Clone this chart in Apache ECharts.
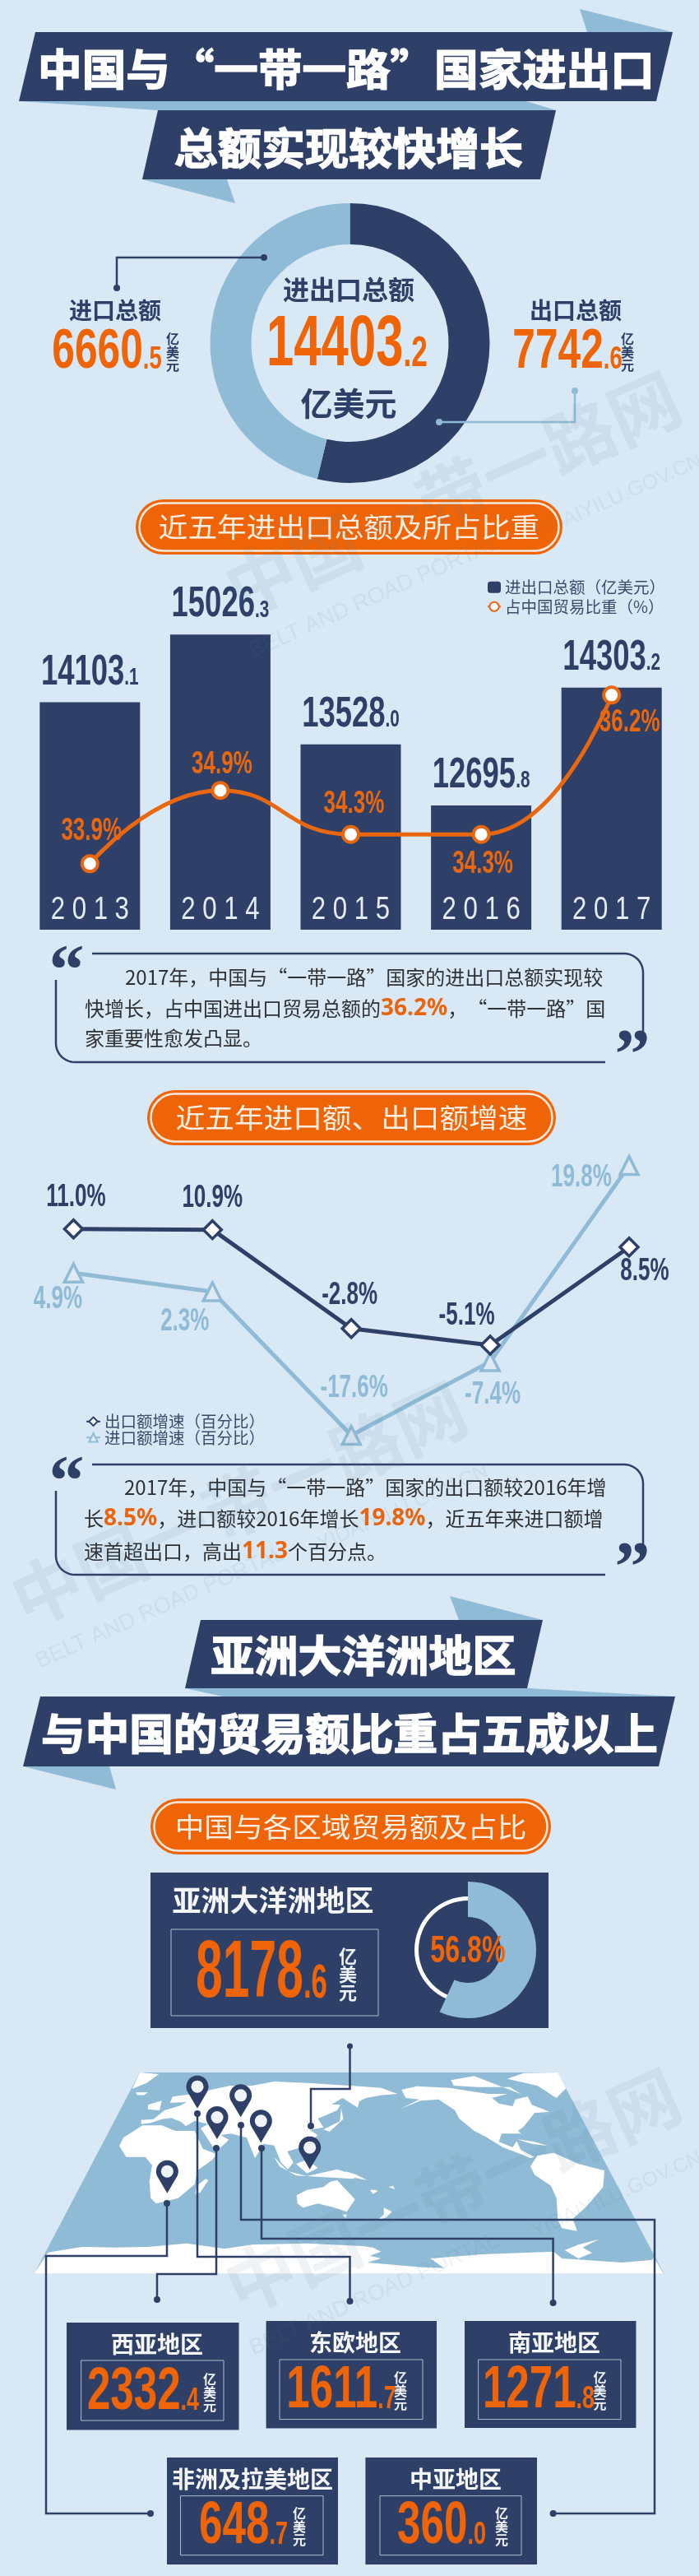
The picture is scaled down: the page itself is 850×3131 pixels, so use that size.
<!DOCTYPE html>
<html>
<head>
<meta charset="utf-8">
<title>中国与“一带一路”国家进出口</title>
<script src="https://cdn.jsdelivr.net/npm/echarts@6/dist/echarts.min.js"></script>
<style>
html, body { margin: 0; padding: 0; background: #d8e8f5; }
#main { width: 850px; height: 3131px; }
</style>
</head>
<body>
<div id="main"></div>
<script>
// 数据
const years = ['2013', '2014', '2015', '2016', '2017']
const totalValues = [14103.1, 15026.3, 13528.0, 12695.8, 14303.2]
const shareValues = [33.9, 34.9, 34.3, 34.3, 36.2]
const exportGrowth = [11.0, 10.9, -2.8, -5.1, 8.5]
const importGrowth = [4.9, 2.3, -17.6, -7.4, 19.8]
const donutNames = ['出口总额', '进口总额']
const donutValues = [7742.6, 6660.5]
const donutTotal = 14403.2
const asiaValue = 8178.6
const asiaShare = 56.8
const regionNames = ['西亚地区', '东欧地区', '南亚地区', '非洲及拉美地区', '中亚地区']
const regionValues = [2332.4, 1611.7, 1271.8, 648.7, 360.0]

const DARK = '#2f4068'
const LIGHT = '#8fbbd6'
const ORANGE = '#ef6407'
const CJK = '"Noto Sans CJK SC", sans-serif'
const NARROW = '"Liberation Sans", sans-serif' // 数字靠 scaleX 压窄

let g = [] // 所有 graphic 元素

function txt(x, y, text, o) {
	o = o || {}
	g.push({
		type: 'text', x: x, y: y, z: o.z || 10, silent: true,
		scaleX: o.scaleX || 1, scaleY: o.scaleY || 1, rotation: o.rotation || 0,
		style: {
			text: text,
			fill: o.color || DARK,
			font: (o.weight || 'normal') + ' ' + (o.size || 20) + 'px ' + (o.font || CJK),
			align: o.align || 'center',
			verticalAlign: 'middle',
			stroke: o.stroke, lineWidth: o.lineWidth || 0,
			rich: o.rich, lineHeight: o.lineHeight
		}
	})
}

// 大数字 + 小数点后缩小
function numText(v) {
	let s = v.toFixed(1).split('.')
	return '{a|' + s[0] + '}{c|.' + s[1] + '}'
}
function numRich(big, small, color) {
	return {
		a: { font: 'bold ' + big + 'px ' + NARROW, fill: color, lineHeight: big, height: big, verticalAlign: 'bottom' },
		c: { font: 'bold ' + small + 'px ' + NARROW, fill: color, lineHeight: small, verticalAlign: 'bottom', padding: [0, 0, (big - small) * 0.2, 0] }
	}
}
function num(x, y, v, big, small, scaleX, color) {
	txt(x, y, numText(v), { rich: numRich(big, small, color || ORANGE), scaleX: scaleX, size: big, font: NARROW, weight: 'bold' })
}
function unit(x, y, size, color) {
	txt(x, y, '亿\n美\n元', { size: size, color: color, weight: 'bold', lineHeight: size })
}
function poly(pts, fill, z) {
	g.push({ type: 'polygon', z: z || 1, silent: true, shape: { points: pts }, style: { fill: fill } })
}
function line(pts, color, w, z) {
	g.push({ type: 'polyline', z: z || 6, silent: true, shape: { points: pts }, style: { stroke: color, lineWidth: w, fill: null } })
}
function dot(x, y, r, color, z) {
	g.push({ type: 'circle', z: z || 6, silent: true, shape: { cx: x, cy: y, r: r }, style: { fill: color } })
}
function rect(x0, y0, x1, y1, o) {
	g.push({
		type: 'rect', z: o.z || 1, silent: true,
		shape: { x: x0, y: y0, width: x1 - x0, height: y1 - y0, r: o.r || 0 },
		style: { fill: o.fill || null, stroke: o.stroke, lineWidth: o.lineWidth || 0 }
	})
}
function pill(x0, y0, x1, y1, text, size, scaleX) {
	rect(x0, y0, x1, y1, { fill: ORANGE, r: (y1 - y0) / 2 })
	rect(x0 + 4.5, y0 + 4.5, x1 - 4.5, y1 - 4.5, { fill: ORANGE, stroke: '#f6e9de', lineWidth: 2.5, r: (y1 - y0) / 2 - 4.5 })
	txt((x0 + x1) / 2, (y0 + y1) / 2, text, { size: size, color: '#fbeee2', scaleX: scaleX })
}

// 圆角引用框
function corner(cx, cy, r, a0, a1) {
	let pts = []
	for (let i = 0; i <= 10; i++) {
		let a = a0 + (a1 - a0) * i / 10
		pts.push([cx + r * Math.cos(a), cy + r * Math.sin(a)])
	}
	return pts
}
function quoteBox(y0, yRight, yLeft, y1) {
	let r = 23
	line([[112, y0]].concat(corner(782 - r, y0 + r, r, -Math.PI / 2, 0)).concat([[782, yRight]]), DARK, 2.5, 3)
	line([[68, yLeft]].concat(corner(68 + r, y1 - r, r, Math.PI, Math.PI / 2)).concat([[736, y1]]), DARK, 2.5, 3)
	txt(81, y0 + 27, '“', { size: 86, font: '"Liberation Serif", serif', weight: 'bold' })
	txt(769, y1 - 3, '”', { size: 86, font: '"Liberation Serif", serif', weight: 'bold' })
}
const hiRich = { o: { font: 'bold 28px "Noto Sans", sans-serif', fill: '#e9650f' } }
function body(x, y, text) {
	txt(x, y, text, { size: 24, color: '#2e3033', align: 'left', rich: hiRich })
}

// ---- 顶部标题 ----
poly([[705, 11], [818, 39], [714, 39]], LIGHT)
poly([[43, 39], [818, 39], [798, 123], [23, 123]], DARK, 2)
poly([[23, 123], [640, 123], [676, 134], [192, 134]], LIGHT)
poly([[192, 134], [676, 134], [657, 218], [173, 218]], DARK, 2)
poly([[173, 218], [276, 218], [286, 247]], LIGHT)
txt(421, 84, '中国与“一带一路”国家进出口', { size: 52, color: '#fff', weight: 'bold', scaleX: 1.03, stroke: '#fff', lineWidth: 1.5 })
txt(424, 180, '总额实现较快增长', { size: 52, color: '#fff', weight: 'bold', scaleX: 1.02, stroke: '#fff', lineWidth: 1.5 })

// ---- 圆环中的文字 ----
txt(424, 352, '进出口总额', { size: 32, weight: 'bold' })
num(422, 420, donutTotal, 88, 52, 0.68)
txt(424, 490, '亿美元', { size: 39, weight: 'bold' })
txt(140, 377, donutNames[1], { size: 28, weight: 'bold' })
num(130, 428, donutValues[1], 69, 38, 0.72)
unit(210, 428, 16)
txt(700, 377, donutNames[0], { size: 28, weight: 'bold' })
num(690, 428, donutValues[0], 69, 38, 0.72)
unit(763, 428, 16)
line([[321, 313], [142, 313], [142, 350]], DARK, 2.5)
dot(321, 313, 4, DARK)
dot(142, 350, 4, DARK)
line([[534, 513], [699, 513], [699, 475]], LIGHT, 2.5)
dot(534, 513, 4, LIGHT)
dot(699, 475, 4, LIGHT)

// ---- 两个柱线图的标题和引用框 ----
pill(165, 607, 684, 674, '近五年进出口总额及所占比重', 33, 1.08)
quoteBox(1159, 1254, 1191, 1291)
body(152, 1188, '2017年，中国与“一带一路”国家的进出口总额实现较')
body(103, 1226, '快增长，占中国进出口贸易总额的{o|36.2%}，“一带一路”国')
body(103, 1262, '家重要性愈发凸显。')

pill(179, 1325, 676, 1392, '近五年进口额、出口额增速', 33, 1.08)
quoteBox(1780, 1877, 1812, 1914)
body(151, 1808, '2017年，中国与“一带一路”国家的出口额较2016年增')
body(102, 1846, '长{o|8.5%}，进口额较2016年增长{o|19.8%}，近五年来进口额增')
body(102, 1886, '速首超出口，高出{o|11.3}个百分点。')

// ---- 第二部分标题 ----
poly([[547, 1940], [660, 1969], [558, 1969]], LIGHT)
poly([[244, 1969], [660, 1969], [641, 2052], [225, 2052]], DARK, 2)
poly([[225, 2052], [641, 2052], [821, 2062], [271, 2062]], LIGHT)
poly([[49, 2062], [821, 2062], [801, 2147], [28, 2147]], DARK, 2)
poly([[28, 2147], [133, 2147], [141, 2175]], LIGHT)
txt(442, 2012, '亚洲大洋洲地区', { size: 52, color: '#fff', weight: 'bold', scaleX: 1.02, stroke: '#fff', lineWidth: 1.5 })
txt(425, 2107, '与中国的贸易额比重占五成以上', { size: 52, color: '#fff', weight: 'bold', scaleX: 1.03, stroke: '#fff', lineWidth: 1.5 })
pill(183, 2186, 670, 2254, '中国与各区域贸易额及占比', 33, 1.08)

rect(183, 2276, 667, 2465, { fill: DARK })
txt(332, 2310, '亚洲大洋洲地区', { size: 35, color: '#f4f6f8', weight: 'bold' })
rect(208, 2345, 460, 2450, { stroke: '#aebccb', lineWidth: 1, z: 2 })
num(318, 2400, asiaValue, 98, 58, 0.6)
unit(423, 2400, 22, '#eef2f6')
txt(569, 2372, asiaShare.toFixed(1) + '%', { size: 46, font: NARROW, weight: 'bold', color: ORANGE, scaleX: 0.7 })

// ---- 世界地图（手绘轮廓，坐标按 3 倍图量取）----
function mp(pts, dx) {
	return pts.map(function(p) { return [40 + (p[0] + (dx || 0)) / 3, 2515 + p[1] / 3] })
}
poly([[170, 2519], [678, 2519], [807, 2763], [42, 2763]], LIGHT, 1)
const landLeft = [
	[[390, 12], [460, 18], [415, 50], [362, 72]],
	[[375, 85], [420, 84], [405, 95], [380, 94]],
	[[420, 130], [470, 115], [462, 150], [420, 146]],
	// 亚欧大陆
	[[395, 185], [395, 200], [430, 196], [470, 182], [505, 178], [540, 192], [558, 208], [590, 188], [640, 200], [612, 215], [625, 235], [668, 300], [715, 258], [685, 240], [722, 235], [780, 250], [810, 325], [842, 272], [880, 278], [905, 340], [930, 365], [950, 340], [928, 300], [990, 282], [1040, 240], [1010, 222], [1060, 212], [1040, 180], [1110, 150], [1122, 130], [1090, 128], [1130, 105], [1185, 140], [1190, 118], [1215, 105], [1270, 95], [1330, 90], [1270, 68], [1190, 62], [1000, 50], [880, 45], [800, 60], [720, 60], [650, 75], [590, 90], [510, 100], [500, 122], [560, 120], [540, 132], [480, 150], [440, 182]],
	// 非洲
	[[315, 280], [330, 250], [400, 205], [470, 205], [520, 225], [590, 225], [620, 290], [670, 310], [655, 330], [600, 370], [590, 420], [530, 470], [450, 490], [430, 470], [425, 410], [435, 350], [410, 320], [340, 320]],
	[[630, 400], [640, 405], [610, 450], [592, 455], [598, 425]],
	// 日本、南洋
	[[1060, 220], [1120, 190], [1125, 142], [1132, 182], [1082, 228]],
	[[880, 320], [930, 372], [1000, 390], [1110, 365], [1172, 385], [1172, 400], [1090, 395], [960, 388], [900, 355]],
	[[960, 345], [1000, 330], [1040, 360], [1000, 380]],
	// 澳大利亚
	[[962, 460], [1000, 440], [1060, 430], [1085, 410], [1110, 405], [1175, 475], [1145, 520], [1100, 505], [1040, 490], [985, 505], [965, 490]],
	[[1130, 530], [1146, 530], [1140, 542]],
	// 南极
	[[55, 668], [180, 648], [300, 650], [420, 648], [560, 635], [700, 655], [800, 640], [1000, 635], [1200, 645], [1240, 650], [1270, 665], [1230, 680], [1270, 690], [1220, 705], [1420, 722], [1500, 725], [1450, 690], [1640, 675], [1780, 670], [1900, 665], [1930, 690], [2150, 705], [2260, 695], [2265, 685], [2300, 745], [5, 745]]
]
const landRight = [
	// 北美
	[[205, 75], [260, 62], [380, 68], [520, 90], [590, 90], [535, 105], [560, 125], [610, 135], [620, 110], [665, 100], [680, 130], [745, 155], [690, 160], [650, 210], [630, 225], [660, 252], [640, 235], [570, 235], [560, 265], [610, 285], [625, 262], [640, 295], [690, 320], [675, 325], [640, 310], [575, 285], [510, 245], [470, 225], [415, 180], [400, 150], [340, 110], [275, 115], [200, 145], [270, 110], [220, 105]],
	[[385, 40], [470, 25], [560, 60], [640, 90], [600, 65], [480, 65], [395, 60]],
	[[590, 35], [650, 14], [775, 12], [805, 70], [770, 105], [700, 60]],
	[[625, 255], [690, 265], [740, 280], [680, 272]],
	// 南美
	[[675, 355], [700, 315], [760, 305], [850, 345], [945, 370], [940, 430], [880, 500], [830, 545], [845, 590], [790, 580], [775, 550], [770, 470], [750, 425], [690, 385]],
	[[110, 555], [140, 530], [140, 505], [170, 520], [150, 540]],
	[[800, 660], [850, 640], [925, 620], [865, 650], [900, 670], [850, 690]],
	[[0, 372], [40, 385], [80, 405], [30, 395]],
	[[90, 440], [110, 440], [118, 445], [100, 455]],
	[[158, 430], [175, 425], [180, 438]]
]
landLeft.forEach(function(p) { poly(mp(p), '#fff', 2) })
landRight.forEach(function(p) { poly(mp(p, 1140), '#fff', 2) })

function pin(zx, zy) {
	let tip = mp([[zx, zy]])[0]
	let r = 13.5, d = 26.5, a = Math.asin(r / d), pts = [[tip[0], tip[1]]]
	for (let i = 0; i <= 24; i++) {
		let ang = Math.PI - a + (Math.PI + 2 * a) * i / 24
		pts.push([tip[0] + r * Math.cos(ang), tip[1] - d + r * Math.sin(ang)])
	}
	poly(pts, DARK, 7)
	dot(tip[0], tip[1] - d, 7.5, '#eef4f9', 8)
}
// 连接线
line([[425.5, 2487], [425.5, 2539], [378, 2539], [378, 2584]], DARK, 2.5)
dot(425.5, 2487, 3.5, DARK); dot(378, 2584, 4, DARK)
line([[203, 2678], [203, 2742], [56, 2742], [56, 3055], [183, 3055]], DARK, 2.5)
dot(203, 2678, 4, DARK); dot(183, 3055, 4, DARK)
line([[263, 2611], [263, 2764], [191, 2764], [191, 2795]], DARK, 2.5)
dot(263, 2611, 4, DARK); dot(191, 2795, 4, DARK)
line([[240, 2569], [240, 2743], [425.5, 2743], [425.5, 2797]], DARK, 2.5)
dot(240, 2569, 4, DARK); dot(425.5, 2797, 4, DARK)
line([[318, 2611], [318, 2721], [672.6, 2721], [672.6, 2799]], DARK, 2.5)
dot(318, 2611, 4, DARK); dot(672.6, 2799, 4, DARK)
line([[293, 2583], [293, 2698], [796, 2698], [796, 3055], [672.6, 3055]], DARK, 2.5)
dot(293, 2583, 4, DARK); dot(672.6, 3055, 4, DARK)
pin(600, 143); pin(758, 175); pin(672, 255); pin(832, 268); pin(1010, 365); pin(490, 452)

// ---- 各地区卡片 ----
const cardBoxes = [
	{ box: [81, 2823, 290.5, 2953.5], title: [191, 2849], inner: [98.6, 2869, 272, 2942], num: [174, 2908], unit: 255 },
	{ box: [323.6, 2821, 531, 2951.5], title: [432, 2847], inner: [340, 2868, 514, 2940.6], num: [415, 2906], unit: 487 },
	{ box: [565, 2821, 773.5, 2951], title: [674, 2847], inner: [581.6, 2868, 755, 2940.6], num: [655, 2906], unit: 729.6 },
	{ box: [203, 2987, 411, 3117], title: [307, 3013], inner: [219.5, 3033.6, 393, 3105.6], num: [296, 3071], unit: 364 },
	{ box: [444.4, 2987, 653, 3117], title: [554, 3013], inner: [462, 3033.6, 634, 3105.6], num: [537, 3071], unit: 610 }
]
cardBoxes.forEach(function(c, i) {
	rect(c.box[0], c.box[1], c.box[2], c.box[3], { fill: DARK })
	rect(c.inner[0], c.inner[1], c.inner[2], c.inner[3], { stroke: '#aebccb', lineWidth: 1, z: 2 })
	txt(c.title[0], c.title[1], regionNames[i], { size: 28, color: '#f4f6f8', weight: 'bold' })
	num(c.num[0], c.num[1], regionValues[i], 72, 38, 0.71)
	unit(c.unit, c.num[1], 16, '#eef2f6')
})

// ---- 水印 ----
function watermark(cx, cy) {
	let col = 'rgba(90,125,155,0.09)', rot = 0.42
	txt(cx, cy, '中国一带一路网', { size: 85, weight: 'bold', color: col, rotation: rot, z: 50 })
	txt(cx - 95, cy + 126, 'BELT AND ROAD PORTAL', { size: 27, font: '"Liberation Sans", sans-serif', color: col, rotation: rot, z: 50 })
	txt(cx + 200, cy + 5, 'YIDAIYILU.GOV.CN', { size: 25, font: '"Liberation Sans", sans-serif', color: col, rotation: rot, z: 50 })
}
watermark(550, 600)
watermark(290, 1828)
watermark(550, 2663)

// 用坐标轴取点的文字标签
function labelSeries(xIdx, yIdx, values, fn) {
	return {
		type: 'custom', xAxisIndex: xIdx, yAxisIndex: yIdx, silent: true, z: 6,
		data: values.map(function(v, i) { return [i, v] }),
		renderItem: function(params, api) {
			let pt = api.coord([api.value(0), api.value(1)])
			return fn(pt, params.dataIndex, api.value(1))
		}
	}
}
function pctLabel(pt, off, v, size, color, scaleX) {
	return {
		type: 'text', x: pt[0] + off[0], y: pt[1] + off[1], scaleX: scaleX,
		style: { text: v.toFixed(1) + '%', fill: color, font: 'bold ' + size + 'px ' + NARROW, align: 'center', verticalAlign: 'middle' }
	}
}
const shareOff = [[2, -39], [2, -31], [4, -37], [2, 36], [22, 34]]
const exportOff = [[3, -38.5], [0, -38], [-2, -40], [-28.5, -35], [19, 29.5]]
const importOff = [[-19, 32], [-33.5, 36], [3.5, -57], [3, 40], [-58, 15]]

let myChart = echarts.init(document.getElementById('main'))
let option = {
	backgroundColor: '#d8e8f5',
	animation: false,
	grid: [
		{ left: 30, width: 793, top: 729, height: 401 },
		{ left: 89.4, width: 675.6, top: 1371, height: 394.6 }
	],
	xAxis: [
		{
			type: 'category', gridIndex: 0, data: years,
			axisLine: { show: false }, axisTick: { show: false }, axisLabel: { show: false }
		},
		{ type: 'category', gridIndex: 1, data: years, boundaryGap: false, show: false }
	],
	yAxis: [
		{ type: 'value', gridIndex: 0, min: 11000, max: 15500, show: false },
		{ type: 'value', gridIndex: 0, min: 33, max: 37.5, show: false },
		{ type: 'value', gridIndex: 1, min: -20, max: 25, show: false }
	],
	legend: [
		{
			left: 587, top: 699, orient: 'vertical', itemGap: 4, itemWidth: 16, itemHeight: 14, selectedMode: false,
			data: ['进出口总额（亿美元）', '占中国贸易比重（%）'],
			textStyle: { color: '#3c4b6c', fontSize: 19.5, fontFamily: CJK }
		},
		{
			left: 99, top: 1713, orient: 'vertical', itemGap: 0, itemWidth: 17, itemHeight: 13, selectedMode: false,
			data: ['出口额增速（百分比）', '进口额增速（百分比）'],
			textStyle: { color: '#3c4b6c', fontSize: 19.5, fontFamily: CJK }
		}
	],
	series: [
		{
			type: 'pie', name: '进出口总额', silent: true, center: [425.5, 417], radius: [120, 170],
			startAngle: 90, label: { show: false }, labelLine: { show: false },
			data: donutNames.map(function(n, i) {
				return { name: n, value: donutValues[i], itemStyle: { color: i == 0 ? DARK : LIGHT } }
			})
		},
		{
			type: 'pie', silent: true, center: [569, 2370], radius: [60, 65], z: 2,
			label: { show: false }, data: [{ value: 100, itemStyle: { color: '#fff' } }]
		},
		{
			type: 'pie', silent: true, center: [569, 2370], radius: [40, 83], startAngle: 90, z: 3,
			label: { show: false },
			data: [
				{ value: asiaShare, itemStyle: { color: LIGHT } },
				{ value: 100 - asiaShare, itemStyle: { color: 'rgba(0,0,0,0)' } }
			]
		},
		{
			type: 'bar', name: '进出口总额（亿美元）', xAxisIndex: 0, yAxisIndex: 0, barWidth: 122, silent: true,
			data: totalValues, itemStyle: { color: DARK }
		},
		{
			type: 'line', name: '占中国贸易比重（%）', xAxisIndex: 0, yAxisIndex: 1, smooth: 0.5, silent: true, z: 4,
			data: shareValues, symbol: 'circle', symbolSize: 19,
			lineStyle: { color: '#e8670f', width: 5 },
			itemStyle: { color: '#fff', borderColor: '#e8670f', borderWidth: 4 }
		},
		labelSeries(0, 0, totalValues, function(pt, i, v) {
			return {
				type: 'text', x: pt[0], y: pt[1] - 36, scaleX: 0.715,
				style: { text: numText(v), rich: numRich(51, 29, DARK), align: 'center', verticalAlign: 'middle' }
			}
		}),
		// 年份写在柱子底部
		labelSeries(0, 0, years.map(function() { return 11000 }), function(pt, i) {
			return {
				type: 'text', x: pt[0], y: pt[1] - 23, scaleX: 0.82,
				style: { text: years[i].split('').join(' '), fill: '#e3ecf4', font: '38px ' + NARROW, align: 'center', verticalAlign: 'middle' }
			}
		}),
		labelSeries(0, 1, shareValues, function(pt, i, v) { return pctLabel(pt, shareOff[i], v, 38, '#e8670f', 0.685) }),
		{
			type: 'line', name: '进口额增速（百分比）', xAxisIndex: 1, yAxisIndex: 2, silent: true,
			data: importGrowth, symbol: 'triangle', symbolSize: 22,
			lineStyle: { color: LIGHT, width: 5 },
			itemStyle: { color: '#dfeaf3', borderColor: LIGHT, borderWidth: 3.5 }
		},
		{
			type: 'line', name: '出口额增速（百分比）', xAxisIndex: 1, yAxisIndex: 2, silent: true,
			data: exportGrowth, symbol: 'diamond', symbolSize: 22,
			lineStyle: { color: DARK, width: 5 },
			itemStyle: { color: '#fff', borderColor: DARK, borderWidth: 3.5 }
		},
		labelSeries(1, 2, exportGrowth, function(pt, i, v) { return pctLabel(pt, exportOff[i], v, 38, DARK, 0.685) }),
		labelSeries(1, 2, importGrowth, function(pt, i, v) { return pctLabel(pt, importOff[i], v, 38, LIGHT, 0.685) })
	],
	graphic: { elements: g }
}
myChart.setOption(option)
</script>
</body>
</html>
